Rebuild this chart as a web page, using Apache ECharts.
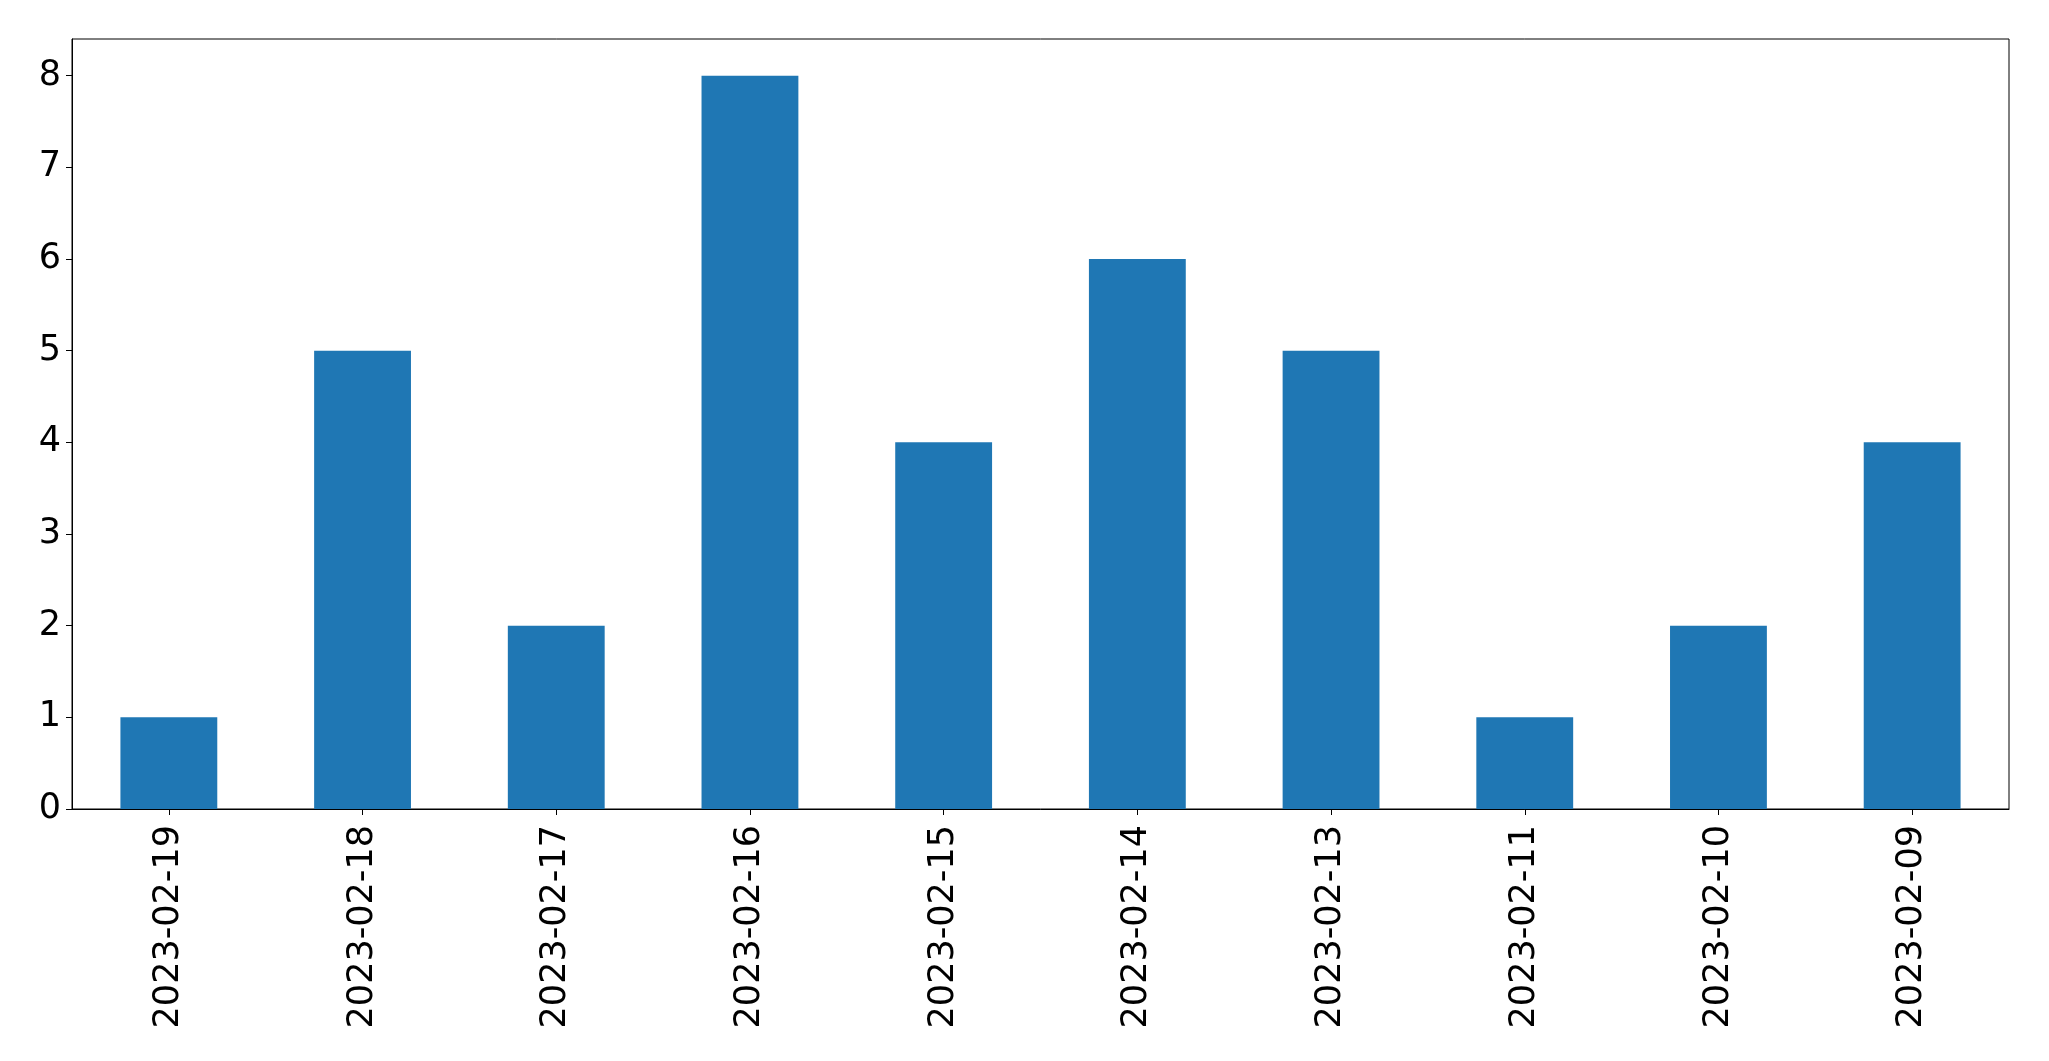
<!DOCTYPE html>
<html>
<head>
<meta charset="utf-8">
<script src="https://cdn.jsdelivr.net/npm/echarts@6/dist/echarts.min.js"></script>
<style>html,body{margin:0;padding:0;background:#fff;}#c{width:2049px;height:1061px;}</style>
</head>
<body>
<div id="c"></div>
<script>
const categories = ['2023-02-19','2023-02-18','2023-02-17','2023-02-16','2023-02-15','2023-02-14','2023-02-13','2023-02-11','2023-02-10','2023-02-09'];
const values = [1, 5, 2, 8, 4, 6, 5, 1, 2, 4];
const yTicks = [0, 1, 2, 3, 4, 5, 6, 7, 8];
const yMax = 8.4;

const chart = echarts.init(document.getElementById('c'), null, {renderer: 'canvas'});
const font = 'DejaVu Sans';
chart.setOption({
  animation: false,
  backgroundColor: '#ffffff',
  grid: {left: 72, top: 39, right: 40, bottom: 252, show: true, borderColor: '#000', borderWidth: 1, backgroundColor: 'transparent'},
  xAxis: {
    type: 'category',
    data: categories,
    boundaryGap: true,
    axisLine: {show: true, lineStyle: {color: '#000', width: 1}},
    axisTick: {show: true, alignWithLabel: true, length: 6, lineStyle: {color: '#000', width: 1}},
    axisLabel: {rotate: 90, margin: 16, color: '#000', fontFamily: font, fontSize: 35, interval: 0},
    splitLine: {show: false}
  },
  yAxis: {
    type: 'value',
    min: 0,
    max: yMax,
    interval: 1,
    axisLine: {show: true, lineStyle: {color: '#000', width: 1}},
    axisTick: {show: true, length: 6, lineStyle: {color: '#000', width: 1}, customValues: yTicks},
    axisLabel: {margin: 11, color: '#000', fontFamily: font, fontSize: 35, customValues: yTicks, padding: [5, 0, 0, 0]},
    splitLine: {show: false}
  },
  series: [{
    type: 'bar',
    data: values,
    barWidth: '50%',
    itemStyle: {color: '#1f77b4'}
  }]
});
</script>
</body>
</html>
